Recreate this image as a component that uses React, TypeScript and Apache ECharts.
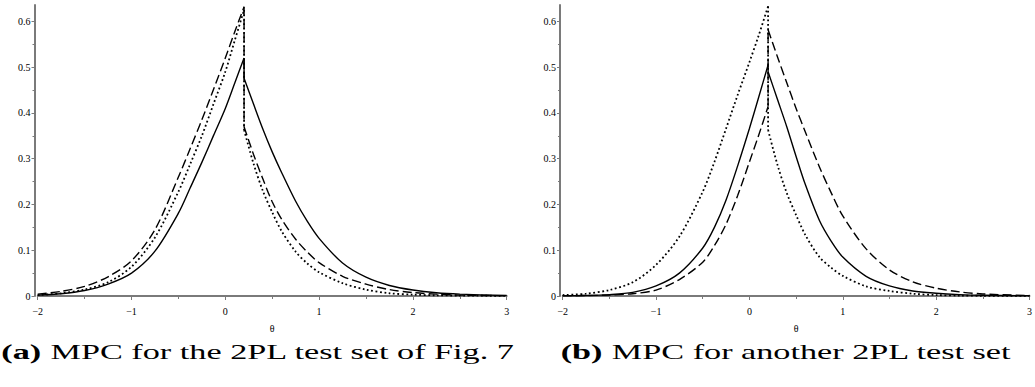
import React, { useEffect, useRef } from "react";
import * as echarts from "echarts";

// θ grid for the branch left of the cusp (θ≈0.2) and right of it
const THETA_L = [-2, -1.75, -1.5, -1.25, -1, -0.75, -0.5, -0.375, -0.25, -0.125, 0, 0.1, 0.2];
const THETA_R = [0.2, 0.3, 0.4, 0.5, 0.6, 0.75, 0.875, 1, 1.25, 1.5, 1.75, 2, 2.25, 2.5, 3];

// Panel (a)
const A_SOLID_L = [0.002, 0.005, 0.012, 0.026, 0.05, 0.098, 0.181, 0.236, 0.292, 0.351, 0.41, 0.465, 0.52];
const A_SOLID_R = [0.476, 0.42, 0.365, 0.315, 0.27, 0.207, 0.163, 0.126, 0.072, 0.041, 0.023, 0.013, 0.007, 0.004, 0.001];
const A_DASH_L = [0.004, 0.01, 0.021, 0.042, 0.077, 0.145, 0.26, 0.322, 0.385, 0.452, 0.52, 0.577, 0.632];
const A_DASH_R = [0.37, 0.31, 0.256, 0.206, 0.168, 0.124, 0.096, 0.073, 0.043, 0.026, 0.014, 0.0075, 0.004, 0.002, 0.0005];
const A_DOT_L = [0.002, 0.006, 0.014, 0.03, 0.064, 0.128, 0.228, 0.288, 0.35, 0.42, 0.49, 0.558, 0.625];
const A_DOT_R = [0.363, 0.29, 0.23, 0.183, 0.142, 0.097, 0.071, 0.052, 0.028, 0.014, 0.006, 0.003, 0.0015, 0.001, 0.0003];

// Panel (b)
const B_SOLID_L = [0.0005, 0.001, 0.003, 0.008, 0.022, 0.05, 0.105, 0.15, 0.21, 0.285, 0.366, 0.435, 0.505];
const B_SOLID_R = [0.49, 0.43, 0.37, 0.305, 0.243, 0.165, 0.12, 0.085, 0.043, 0.022, 0.011, 0.006, 0.003, 0.0015, 0.0004];
const B_DASH_L = [0.0003, 0.001, 0.002, 0.005, 0.013, 0.036, 0.074, 0.11, 0.157, 0.22, 0.293, 0.352, 0.414];
const B_DASH_R = [0.582, 0.523, 0.466, 0.41, 0.358, 0.282, 0.226, 0.175, 0.103, 0.057, 0.031, 0.017, 0.009, 0.0045, 0.001];
const B_DOT_L = [0.002, 0.005, 0.013, 0.03, 0.068, 0.13, 0.228, 0.293, 0.366, 0.44, 0.511, 0.57, 0.633];
const B_DOT_R = [0.363, 0.287, 0.225, 0.177, 0.133, 0.085, 0.062, 0.044, 0.021, 0.011, 0.005, 0.002, 0.001, 0.0005, 0.0001];

const X_TICKS = [-2, -1, 0, 1, 2, 3];
const Y_TICKS = [0, 0.1, 0.2, 0.3, 0.4, 0.5, 0.6];
const CAPTION_A = "MPC for the 2PL test set of Fig. 7";
const CAPTION_B = "MPC for another 2PL test set";

const AXIS_GRAY = "#7a7a7a";
const SERIF = "'Liberation Serif', 'Times New Roman', serif";

function pairs(ts: number[], vs: number[]) {
  return ts.map((t, i) => [t, vs[i]]);
}

function xAxis(gridIndex: number) {
  return {
    type: "value",
    gridIndex,
    min: -2,
    max: 3,
    interval: 1,
    name: "θ",
    nameLocation: "middle",
    nameGap: 27,
    nameTextStyle: { fontFamily: SERIF, fontSize: 10, color: "#000" },
    axisLine: { show: true, onZero: false, lineStyle: { color: AXIS_GRAY, width: 2 } },
    axisTick: { show: true, customValues: X_TICKS, length: 4, lineStyle: { color: AXIS_GRAY, width: 1 } },
    minorTick: { show: true, splitNumber: 2, length: 3, lineStyle: { color: AXIS_GRAY, width: 1 } },
    axisLabel: {
      customValues: X_TICKS,
      margin: 10,
      fontFamily: SERIF,
      fontSize: 10,
      color: "#000",
      formatter: (v: number) => (v < 0 ? "\u2212" + Math.abs(v) : String(v)),
    },
    splitLine: { show: false },
  };
}

function yAxis(gridIndex: number, offset: number) {
  return {
    type: "value",
    gridIndex,
    min: 0,
    max: 0.636,
    interval: 0.1,
    offset,
    axisLine: { show: true, onZero: false, lineStyle: { color: AXIS_GRAY, width: 2 } },
    axisTick: { show: true, customValues: Y_TICKS, length: 3, lineStyle: { color: AXIS_GRAY, width: 1 } },
    minorTick: { show: true, splitNumber: 2, length: 2, lineStyle: { color: AXIS_GRAY, width: 1 } },
    axisLabel: {
      customValues: Y_TICKS,
      margin: 4,
      fontFamily: SERIF,
      fontSize: 10,
      color: "#000",
      formatter: (v: number) => (v === 0 ? "0" : v.toFixed(1)),
    },
    splitLine: { show: false },
  };
}

const SOLID = { type: "solid", width: 1.4, color: "#000" };
const DASHED = { type: [9, 4], width: 1.4, color: "#000" };
const DOTTED = { type: [1.8, 2.6], width: 1.8, color: "#000" };

function line(name: string, data: number[][], style: any, idx: number, smooth: boolean) {
  return {
    name,
    type: "line",
    xAxisIndex: idx,
    yAxisIndex: idx,
    data,
    showSymbol: false,
    symbol: "none",
    smooth: smooth ? 0.3 : false,
    lineStyle: style,
    z: 3,
  };
}

// one curve = left branch, the vertical jump at the cusp, right branch
function curve(name: string, l: number[], r: number[], style: any, idx: number) {
  const lp = pairs(THETA_L, l);
  const rp = pairs(THETA_R, r);
  return [
    line(name + "-l", lp, style, idx, true),
    line(name + "-v", [lp[lp.length - 1], rp[0]], style, idx, false),
    line(name + "-r", rp, style, idx, true),
  ];
}

function caption(label: string, text: string, cx: number) {
  return {
    type: "text",
    x: cx,
    y: 352,
    scaleX: 1.63,
    style: {
      text: "{b|" + label + "} " + text,
      fontFamily: SERIF,
      fontSize: 21,
      fill: "#000",
      align: "center",
      verticalAlign: "middle",
      rich: {
        b: { fontFamily: SERIF, fontSize: 21, fontWeight: "bold", fill: "#000" },
      },
    },
  };
}

export default function App() {
  const ref = useRef<HTMLDivElement>(null);
  useEffect(() => {
    if (!ref.current) return;
    const chart = echarts.init(ref.current, null, { renderer: "svg" });
    chart.setOption({
      animation: false,
      backgroundColor: "#fff",
      grid: [
        { left: 37.7, top: 5, width: 469, height: 291 },
        { left: 562.7, top: 5, width: 468.3, height: 291 },
      ],
      xAxis: [xAxis(0), xAxis(1)],
      yAxis: [yAxis(0, 3.2), yAxis(1, 2.7)],
      series: [
        ...curve("a-solid", A_SOLID_L, A_SOLID_R, SOLID, 0),
        ...curve("a-dashed", A_DASH_L, A_DASH_R, DASHED, 0),
        ...curve("a-dotted", A_DOT_L, A_DOT_R, DOTTED, 0),
        ...curve("b-solid", B_SOLID_L, B_SOLID_R, SOLID, 1),
        ...curve("b-dashed", B_DASH_L, B_DASH_R, DASHED, 1),
        ...curve("b-dotted", B_DOT_L, B_DOT_R, DOTTED, 1),
      ],
      graphic: [caption("(a)", CAPTION_A, 258), caption("(b)", CAPTION_B, 786)],
    });
    return () => chart.dispose();
  }, []);
  return (
    <div
      ref={ref}
      style={{ position: "absolute", left: 0, top: 0, width: 1035, height: 387, background: "#fff" }}
    />
  );
}
